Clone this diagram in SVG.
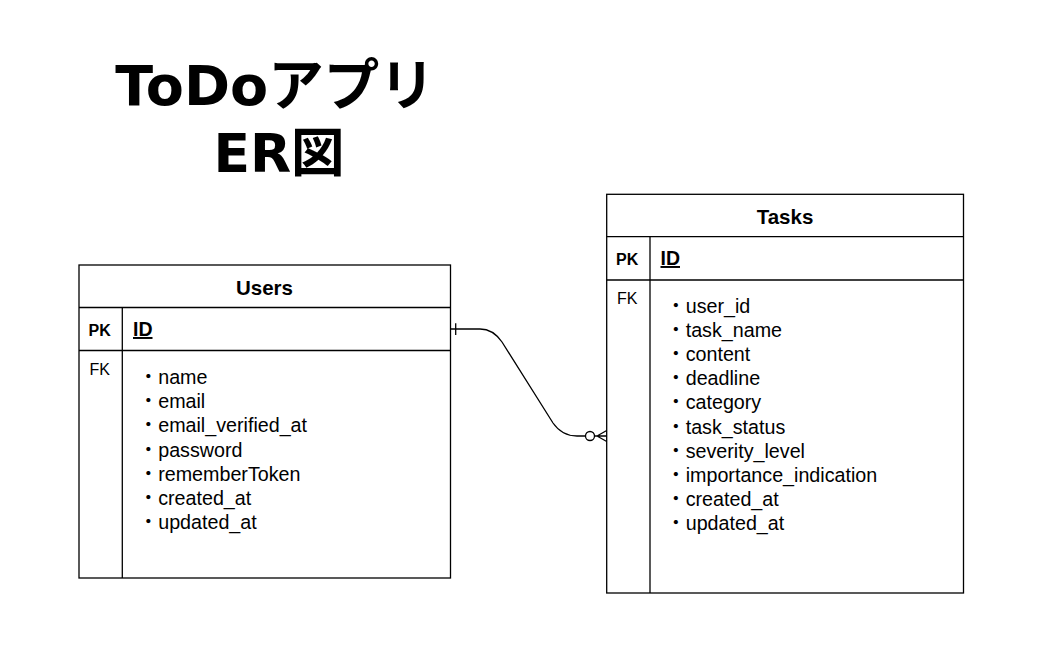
<svg xmlns="http://www.w3.org/2000/svg" width="1038" height="662" viewBox="0 0 1038 662">
<style>
.box{fill:#fff;stroke:#000;stroke-width:1.3}
.ln{stroke:#000;stroke-width:1.3;fill:none}
.title{font-family:"DejaVu Sans","Noto Sans CJK JP",sans-serif;font-weight:bold;fill:#000}
.hdr{font-family:"Liberation Sans",Arial,sans-serif;font-weight:bold;font-size:20.5px;fill:#000;text-anchor:middle}
.pk{font-family:"Liberation Sans",Arial,sans-serif;font-weight:bold;font-size:16px;fill:#000}
.fk{font-family:"Liberation Sans",Arial,sans-serif;font-size:16px;fill:#000}
.id{font-family:"Liberation Sans",Arial,sans-serif;font-weight:bold;font-size:19.5px;fill:#000;text-decoration:underline}
.fld{font-family:"Liberation Sans","Noto Sans CJK JP",sans-serif;font-size:19.7px;fill:#000}
</style>
<rect width="1038" height="662" fill="#fff"/>
<g id="title">
<text class="title" x="275" y="105" text-anchor="middle" font-size="55.5">ToDoアプリ</text>
<text class="title" x="279" y="172" text-anchor="middle" font-size="53.5">ER図</text>
</g>
<g id="users">
<rect class="box" x="79" y="265" width="371.5" height="313"/>
<line class="ln" x1="79" y1="307.5" x2="450.5" y2="307.5"/>
<line class="ln" x1="79" y1="350.5" x2="450.5" y2="350.5"/>
<line class="ln" x1="122.3" y1="307.5" x2="122.3" y2="578"/>
<text class="hdr" x="264.5" y="295">Users</text>
<text class="pk" x="88.5" y="336">PK</text>
<text class="id" x="133" y="336">ID</text>
<text class="fk" x="89.5" y="375">FK</text>
<text class="fld" x="138.5" y="384">・name</text>
<text class="fld" x="138.5" y="408.2">・email</text>
<text class="fld" x="138.5" y="432.4">・email_verified_at</text>
<text class="fld" x="138.5" y="456.6">・password</text>
<text class="fld" x="138.5" y="480.8">・rememberToken</text>
<text class="fld" x="138.5" y="505">・created_at</text>
<text class="fld" x="138.5" y="529.2">・updated_at</text>
</g>
<g id="tasks">
<rect class="box" x="606.7" y="194.3" width="356.8" height="398.7"/>
<line class="ln" x1="606.7" y1="236.7" x2="963.5" y2="236.7"/>
<line class="ln" x1="606.7" y1="280" x2="963.5" y2="280"/>
<line class="ln" x1="650" y1="236.7" x2="650" y2="593"/>
<text class="hdr" x="785" y="224">Tasks</text>
<text class="pk" x="616" y="265">PK</text>
<text class="id" x="660.5" y="265">ID</text>
<text class="fk" x="617" y="304">FK</text>
<text class="fld" x="666" y="312.5">・user_id</text>
<text class="fld" x="666" y="336.7">・task_name</text>
<text class="fld" x="666" y="360.9">・content</text>
<text class="fld" x="666" y="385.1">・deadline</text>
<text class="fld" x="666" y="409.3">・category</text>
<text class="fld" x="666" y="433.5">・task_status</text>
<text class="fld" x="666" y="457.7">・severity_level</text>
<text class="fld" x="666" y="481.9">・importance_indication</text>
<text class="fld" x="666" y="506.1">・created_at</text>
<text class="fld" x="666" y="530.3">・updated_at</text>
</g>
<g id="connectors">
<path class="ln" d="M450.5,329 L480,329 Q493,329 502,342 L553,423 Q562,436 577,436 L585.5,436"/>
<line class="ln" x1="455.7" y1="323.3" x2="455.7" y2="335"/>
<circle class="ln" cx="590" cy="436" r="4.5" fill="#fff"/>
<path class="ln" d="M594.5,436 L606.7,436 M597,436 L606.7,430.5 M597,436 L606.7,441.5"/>
</g>
</svg>
